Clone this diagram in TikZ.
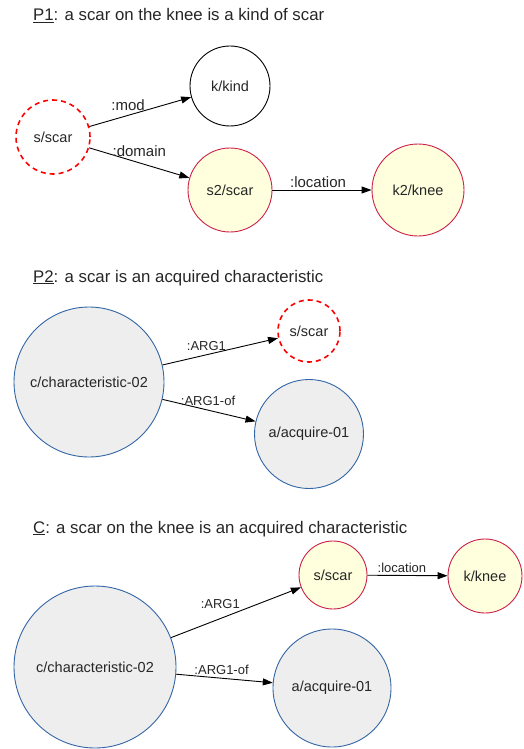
\documentclass[tikz,border=0pt]{standalone}
\usepackage{fontspec}
\setmainfont{Liberation Sans}
\usetikzlibrary{arrows.meta}
\definecolor{scarfill}{HTML}{FFFFDD}
\definecolor{scarline}{HTML}{CC1F4A}
\definecolor{predfill}{HTML}{EEEEEE}
\definecolor{predline}{HTML}{3366A6}
\tikzset{
  concept/.style={circle, draw, line width=0.9pt, inner sep=0pt, text=black!85,
    font=\fontsize{14.5}{17}\selectfont},
  ghost/.style={concept, draw=red, line width=1.6pt, dash pattern=on 5pt off 4pt},
  yellownode/.style={concept, draw=scarline, fill=scarfill},
  greynode/.style={concept, draw=predline, fill=predfill},
  role/.style={-{Triangle[length=10pt,width=7pt]}, line width=0.9pt},
  lbl/.style={font=\fontsize{13}{15}\selectfont, text=black!85, inner sep=1pt},
  biglbl/.style={lbl, font=\fontsize{15}{17}\selectfont},
  title/.style={anchor=base west, inner sep=0pt, text=black!85, font=\fontsize{16.8}{19}\selectfont}
}
\begin{document}
\begin{tikzpicture}[x=1pt,y=-1pt]
\useasboundingbox (0,0) rectangle (524,749);

\node(tP1)  [title]                                 at (33,21)   {\underline{P1}: a scar on the knee is a kind of scar};
\node(sP1)  [ghost, minimum size=74pt]              at (53,137)  {s/scar};
\node(kP1)  [concept, minimum size=80pt]            at (230,86)  {k/kind};
\node(s2P1) [yellownode, minimum size=84pt]         at (230,190) {s2/scar};
\node(k2P1) [yellownode, minimum size=92pt]         at (418,190) {k2/knee};

\node(tP2)  [title]                                 at (33,282)  {\underline{P2}: a scar is an acquired characteristic};
\node(cP2)  [greynode, minimum size=150pt]          at (89,382)  {c/characteristic-02};
\node(sP2)  [ghost, minimum size=62pt]              at (309,331) {s/scar};
\node(aP2)  [greynode, minimum size=109pt]          at (309,434) {a/acquire-01};

\node(tC)   [title]                                 at (33,533)  {\underline{C}: a scar on the knee is an acquired characteristic};
\node(cC)   [greynode, minimum size=162pt]          at (95,667)  {c/characteristic-02};
\node(sC)   [yellownode, minimum size=68pt]         at (333,575) {s/scar};
\node(kC)   [yellownode, minimum size=74pt]         at (485,576) {k/knee};
\node(aC)   [greynode, minimum size=118pt]          at (332,688) {a/acquire-01};

\draw[role](sP1)  -- node[biglbl, above=3pt, pos=0.38] {:mod} (kP1);
\draw[role](sP1)  -- node[biglbl, above=5pt, pos=0.5]  {:domain} (s2P1);
\draw[role](s2P1) -- node[biglbl, above=1pt, pos=0.46] {:location} (k2P1);

\draw[role](cP2)  -- node[lbl, above=3pt, pos=0.38] {:ARG1} (sP2);
\draw[role](cP2)  -- node[lbl, above=3pt, pos=0.49] {:ARG1-of} (aP2);

\draw[role](cC)   -- node[lbl, above=8pt, pos=0.38] {:ARG1} (sC);
\draw[role](cC)   -- node[lbl, above=2pt, pos=0.47] {:ARG1-of} (aC);
\draw[role](sC)   -- node[lbl, above=1pt, pos=0.43] {:location} (kC);
\end{tikzpicture}
\end{document}
